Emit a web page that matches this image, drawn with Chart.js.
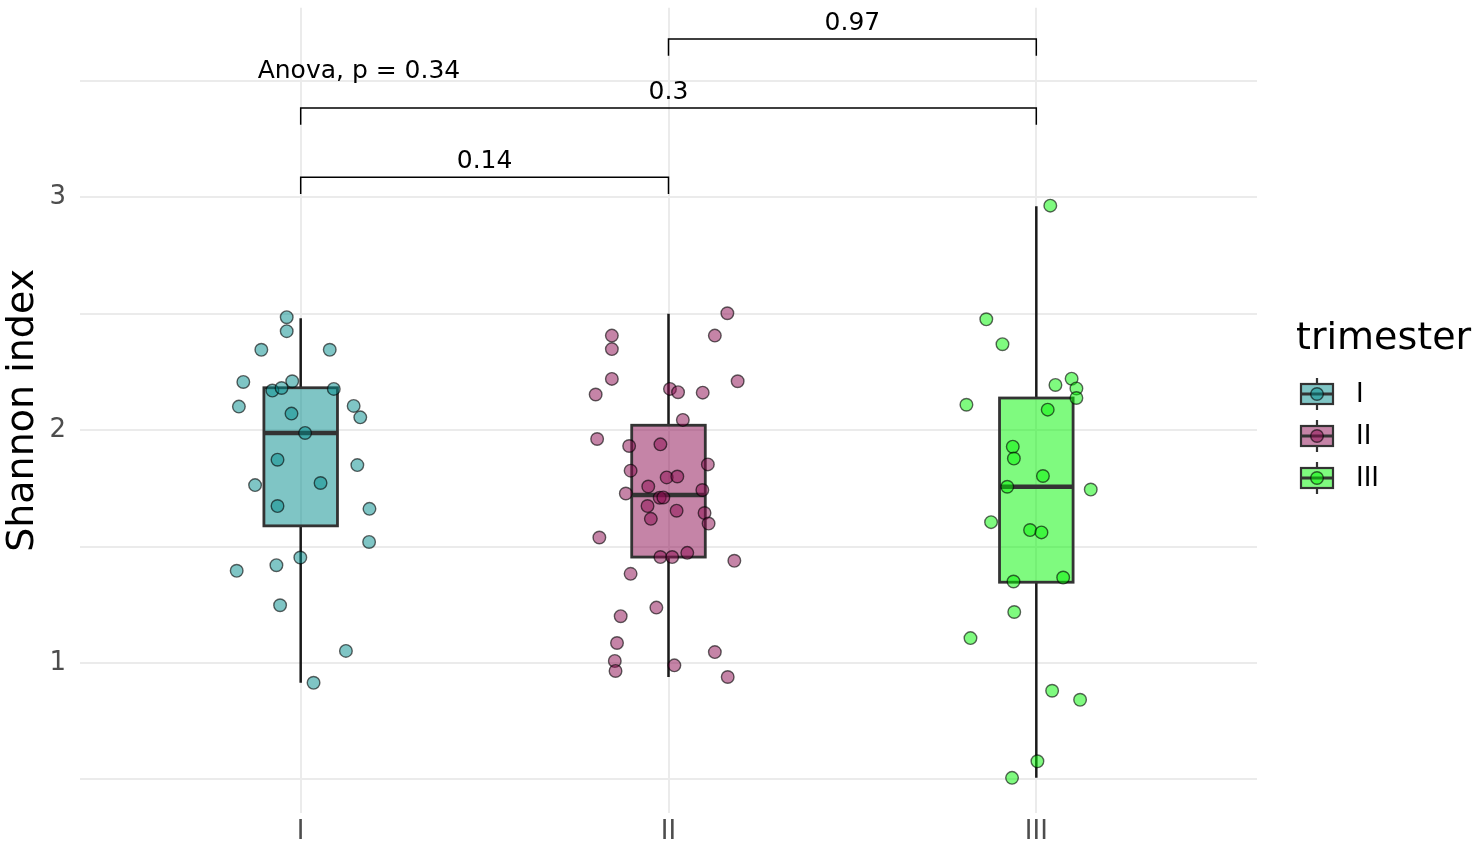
<!DOCTYPE html>
<html>
<head>
<meta charset="utf-8">
<script src="https://cdn.jsdelivr.net/npm/chart.js@4.4.1/dist/chart.umd.min.js"></script>
<style>
  html, body { margin: 0; background: #fff; }
  #wrap { width: 1476px; height: 849px; position: relative; }
</style>
</head>
<body>
<div id="wrap"><canvas id="Graph"></canvas></div>
<script>
const FONT = "'DejaVu Sans', sans-serif";

// categories and colours
const groups = ['I', 'II', 'III'];
const colors = ['0,139,139', '139,10,80', '0,245,0'];

// jittered points: offset from the category position, Shannon index value
const jitterI = [-0.038, -0.038, -0.107, 0.079, -0.156, -0.023, -0.077, -0.052, 0.090, -0.168, 0.144, 0.162, -0.025, 0.012,
    -0.063, 0.154, -0.124, 0.054, -0.063, 0.187, 0.186, -0.001, -0.174, -0.066, -0.056, 0.123, 0.035];
const shannonI = [2.485, 2.425, 2.345, 2.345, 2.207, 2.210, 2.170, 2.181, 2.177, 2.101, 2.104, 2.055, 2.071, 1.988,
    1.873, 1.850, 1.764, 1.773, 1.674, 1.662, 1.520, 1.453, 1.396, 1.420, 1.248, 1.052, 0.915];

const jitterII = [0.160, -0.154, 0.126, -0.154, 0.188, -0.154, -0.198, 0.004, 0.026, 0.093, 0.039, -0.194, -0.107, -0.022,
    0.107, -0.103, -0.005, 0.024, -0.055, 0.092, -0.116, -0.024, -0.014, -0.057, 0.022, 0.098, -0.048, 0.109,
    -0.188, -0.022, 0.010, 0.051, 0.179, -0.103, -0.033, -0.130, -0.140, 0.126, -0.146, -0.144, 0.016, 0.161];
const shannonII = [2.502, 2.406, 2.406, 2.348, 2.210, 2.220, 2.153, 2.177, 2.163, 2.161, 2.044, 1.962, 1.932, 1.939,
    1.853, 1.826, 1.797, 1.801, 1.758, 1.743, 1.728, 1.710, 1.711, 1.674, 1.654, 1.644, 1.619, 1.599,
    1.539, 1.455, 1.455, 1.473, 1.439, 1.383, 1.238, 1.201, 1.086, 1.047, 1.009, 0.966, 0.990, 0.940];

const jitterIII = [0.038, -0.136, -0.092, 0.052, 0.096, 0.109, 0.109, -0.190, 0.031, -0.064, -0.061, 0.018, 0.148,
    -0.079, -0.123, -0.017, 0.014, -0.062, 0.073, -0.060, -0.179, 0.043, 0.119, 0.003, -0.066];
const shannonIII = [2.964, 2.476, 2.369, 2.194, 2.221, 2.179, 2.138, 2.109, 2.088, 1.929, 1.878, 1.803, 1.745,
    1.757, 1.605, 1.571, 1.561, 1.350, 1.367, 1.219, 1.107, 0.881, 0.842, 0.578, 0.507];

// box plot statistics per trimester
const whiskerLow = [0.915, 0.940, 0.507];
const q1 = [1.589, 1.455, 1.347];
const median = [1.988, 1.721, 1.757];
const q3 = [2.182, 2.021, 2.138];
const whiskerHigh = [2.481, 2.500, 2.961];

// pairwise comparisons
const pairs = [[1, 2], [1, 3], [2, 3]];
const pLabels = ['0.14', '0.3', '0.97'];
const pLevels = [3.086, 3.383, 3.680];
const anovaText = 'Anova, p = 0.34';

const jitters = [jitterI, jitterII, jitterIII];
const values = [shannonI, shannonII, shannonIII];

const datasets = groups.map((g, i) => ({
    label: g,
    data: values[i].map((v, k) => ({ x: i + 1 + jitters[i][k], y: v })),
    backgroundColor: 'rgba(' + colors[i] + ',0.5)',
    borderColor: 'rgba(0,0,0,0.6)',
    borderWidth: 1.4,
    pointRadius: 6.3,
    pointHoverRadius: 6.3
}));

const boxPlugin = {
    id: 'boxes',
    beforeDatasetsDraw(chart) {
        const ctx = chart.ctx;
        const xs = chart.scales.x, ys = chart.scales.y;
        ctx.save();
        groups.forEach((g, i) => {
            const cx = xs.getPixelForValue(i + 1);
            const x0 = xs.getPixelForValue(i + 0.9), x1 = xs.getPixelForValue(i + 1.1);
            const yq1 = ys.getPixelForValue(q1[i]), yq3 = ys.getPixelForValue(q3[i]);
            // whiskers
            ctx.strokeStyle = '#1a1a1a';
            ctx.lineWidth = 2.5;
            ctx.beginPath();
            ctx.moveTo(cx, yq3); ctx.lineTo(cx, ys.getPixelForValue(whiskerHigh[i]));
            ctx.moveTo(cx, yq1); ctx.lineTo(cx, ys.getPixelForValue(whiskerLow[i]));
            ctx.stroke();
            // box
            ctx.fillStyle = 'rgba(' + colors[i] + ',0.5)';
            ctx.fillRect(x0, yq3, x1 - x0, yq1 - yq3);
            ctx.strokeStyle = '#333';
            ctx.lineWidth = 2.8;
            ctx.strokeRect(x0, yq3, x1 - x0, yq1 - yq3);
            // median
            const ym = ys.getPixelForValue(median[i]);
            ctx.lineWidth = 4.5;
            ctx.beginPath();
            ctx.moveTo(x0, ym); ctx.lineTo(x1, ym);
            ctx.stroke();
        });
        ctx.restore();
    },
    afterDraw(chart) {
        const ctx = chart.ctx;
        const xs = chart.scales.x, ys = chart.scales.y;
        ctx.save();
        // comparison brackets
        ctx.strokeStyle = '#000';
        ctx.fillStyle = '#000';
        ctx.lineWidth = 1.5;
        ctx.font = '25px ' + FONT;
        ctx.textAlign = 'center';
        ctx.textBaseline = 'bottom';
        pairs.forEach((p, k) => {
            const xa = xs.getPixelForValue(p[0]), xb = xs.getPixelForValue(p[1]);
            const y = ys.getPixelForValue(pLevels[k]);
            const yd = ys.getPixelForValue(pLevels[k] - 0.072);
            ctx.beginPath();
            ctx.moveTo(xa, yd); ctx.lineTo(xa, y); ctx.lineTo(xb, y); ctx.lineTo(xb, yd);
            ctx.stroke();
            ctx.fillText(pLabels[k], (xa + xb) / 2, y - 3);
        });
        ctx.textAlign = 'left';
        ctx.textBaseline = 'middle';
        ctx.fillText(anovaText, xs.getPixelForValue(0.883), ys.getPixelForValue(3.538));

        // legend
        ctx.font = '38px ' + FONT;
        ctx.fillText('trimester', 1296, 339);
        ctx.font = '26px ' + FONT;
        groups.forEach((g, i) => {
            const cy = 394 + i * 42, cx = 1317;
            ctx.strokeStyle = '#333';
            ctx.lineWidth = 2.2;
            ctx.beginPath();
            ctx.moveTo(cx, cy - 16); ctx.lineTo(cx, cy - 10);
            ctx.moveTo(cx, cy + 10); ctx.lineTo(cx, cy + 16);
            ctx.stroke();
            ctx.fillStyle = 'rgba(' + colors[i] + ',0.5)';
            ctx.fillRect(cx - 16, cy - 10, 32, 20);
            ctx.strokeRect(cx - 16, cy - 10, 32, 20);
            ctx.lineWidth = 3;
            ctx.beginPath();
            ctx.moveTo(cx - 16, cy); ctx.lineTo(cx + 16, cy);
            ctx.stroke();
            ctx.beginPath();
            ctx.arc(cx, cy, 6.3, 0, Math.PI * 2);
            ctx.fill();
            ctx.strokeStyle = 'rgba(0,0,0,0.6)';
            ctx.lineWidth = 1.4;
            ctx.stroke();
            ctx.fillStyle = '#000';
            ctx.fillText(g, 1356, cy + 1);
        });
        ctx.restore();
    }
};

function noPad(s) {
    s.paddingTop = 0;
    s.paddingBottom = 0;
    s.paddingLeft = 0;
    s.paddingRight = 0;
}

new Chart(document.getElementById('Graph'), {
    type: 'scatter',
    data: { datasets: datasets },
    plugins: [boxPlugin],
    options: {
        responsive: true,
        maintainAspectRatio: false,
        animation: false,
        layout: { padding: { top: -4, right: 219, bottom: 0, left: 0 } },
        plugins: { legend: { display: false }, tooltip: { enabled: false } },
        scales: {
            x: {
                type: 'linear',
                min: 0.4,
                max: 3.6,
                afterFit(s) { s.height = 36; noPad(s); },
                border: { display: false },
                grid: { color: '#ebebeb', lineWidth: 2, drawTicks: false },
                ticks: {
                    stepSize: 1,
                    includeBounds: false,
                    padding: 4,
                    color: '#4d4d4d',
                    font: { size: 26, family: FONT },
                    callback: v => Number.isInteger(v) ? groups[v - 1] : ''
                }
            },
            y: {
                min: 0.356,
                max: 3.814,
                afterFit(s) { s.width = 80; noPad(s); },
                border: { display: false },
                grid: { color: '#ebebeb', lineWidth: 2, drawTicks: false },
                title: {
                    display: true,
                    text: 'Shannon index',
                    color: '#000',
                    font: { size: 38, family: FONT },
                    padding: { top: 0, bottom: 0 }
                },
                ticks: {
                    stepSize: 0.5,
                    includeBounds: false,
                    padding: 14,
                    color: '#4d4d4d',
                    font: { size: 26, family: FONT },
                    callback: v => Number.isInteger(v) ? String(v) : ''
                }
            }
        }
    }
});
</script>
</body>
</html>
